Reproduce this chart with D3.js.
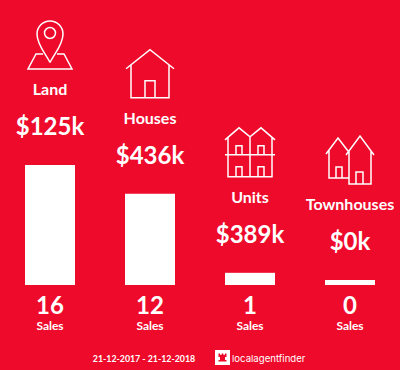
<!DOCTYPE html>
<html>
<head>
<meta charset="utf-8">
<script src="https://cdn.jsdelivr.net/npm/d3@7"></script>
<style>
  html, body { margin: 0; padding: 0; background: #ee0a2b; }
  svg { display: block; }
  text { font-family: Lato, sans-serif; fill: #fff; text-anchor: middle; }
</style>
</head>
<body>
<svg id="chart"></svg>
<script>
const categories = ["Land", "Houses", "Units", "Townhouses"];
const prices = ["$125k", "$436k", "$389k", "$0k"];
const sales = [16, 12, 1, 0];
const dateRange = "21-12-2017 - 21-12-2018";
const brand = "localagentfinder";

// icon outlines, relative to the column centre and the category label baseline
const icons = {
  Land: "M0,-32.5 C-4,-41 -13,-50 -13,-61 A13,13 0 1 1 13,-61 C13,-50 4,-41 0,-32.5 M-7,-41 H-14 L-22,-26 H22 L14,-41 H7 M5.5,-62 A5.5,5.5 0 1 1 -5.5,-62 A5.5,5.5 0 1 1 5.5,-62",
  Houses: "M-24,-55 L0,-74 L24,-55 M-19,-59 V-26 H19 V-59 M-5,-26 V-43 H5 V-26",
  Units: "M-25,-63 L-11,-75 L0,-66 L11,-75 L25,-63 M-22,-65 V-26 H22 V-65 M0,-66 V-26 M-25,-48 H25 M-14,-48 V-57 H-8 V-48 M8,-48 V-57 H14 V-48 M-14,-26 V-36 H-8 V-26 M8,-26 V-36 H14 V-26",
  Townhouses: "M-24,-56 L-12,-72 L-2,-59 M-4,-55 L10,-74 L24,-55 M-1,-59 V-26 H21 V-59 M-21,-60 V-32 H-1 M-14,-32 V-43 H-8 V-32 M6,-26 V-38 H13 V-26"
};

const width = 400;
const height = 370;
const baseline = 285;

const svg = d3.select("#chart").attr("width", width).attr("height", height);

const x = d3.scaleBand().domain(categories).range([0, width]).paddingInner(0.5).paddingOuter(0.25);
// empty categories still get a small stub, hence range not starting at baseline
const y = d3.scaleLinear().domain([0, d3.max(sales)]).range([baseline - 5, 165]);

const columns = svg.selectAll("g.col")
  .data(categories.map((name, i) => ({name, price: prices[i], sales: sales[i]})))
  .join("g")
  .attr("class", "col")
  .attr("transform", d => `translate(${x(d.name) + x.bandwidth() / 2},0)`);

columns.append("rect")
  .attr("x", -x.bandwidth() / 2)
  .attr("width", x.bandwidth())
  .attr("y", d => y(d.sales))
  .attr("height", d => baseline - y(d.sales))
  .attr("fill", "#fff");

columns.append("text")
  .attr("y", d => y(d.sales) - 30)
  .attr("font-size", 24)
  .attr("font-weight", 700)
  .text(d => d.price);

columns.append("text")
  .attr("y", d => y(d.sales) - 70)
  .attr("font-size", 16)
  .attr("font-weight", 700)
  .text(d => d.name);

columns.append("path")
  .attr("transform", d => `translate(0,${y(d.sales) - 70})`)
  .attr("d", d => icons[d.name])
  .attr("fill", "none")
  .attr("stroke", "#fff")
  .attr("stroke-width", 1.5);

columns.append("text")
  .attr("y", 314)
  .attr("font-size", 24)
  .attr("font-weight", 700)
  .text(d => d.sales);

columns.append("text")
  .attr("y", 330)
  .attr("font-size", 12)
  .attr("font-weight", 700)
  .text("Sales");

const footer = svg.append("g");

footer.append("text")
  .attr("x", 144)
  .attr("y", 362)
  .attr("font-size", 8.8)
  .attr("font-weight", 700)
  .text(dateRange);

footer.append("rect")
  .attr("x", 215).attr("y", 350)
  .attr("width", 15).attr("height", 15)
  .attr("fill", "#fff");

footer.append("path")
  .attr("transform", "translate(222.5,357.5)")
  .attr("d", "M-4,-4 H-2.5 V-2.8 H-0.8 V-4 H0.8 V-2.8 H2.5 V-4 H4 V-0.5 H2.5 V2.5 H4 V4 H-4 V2.5 H-2.5 V-0.5 H-4 Z")
  .attr("fill", "#ee0a2b");

footer.append("text")
  .attr("x", 232)
  .attr("y", 362)
  .attr("font-size", 9.6)
  .style("font-family", "Inter, sans-serif")
  .style("text-anchor", "start")
  .text(brand);
</script>
</body>
</html>
